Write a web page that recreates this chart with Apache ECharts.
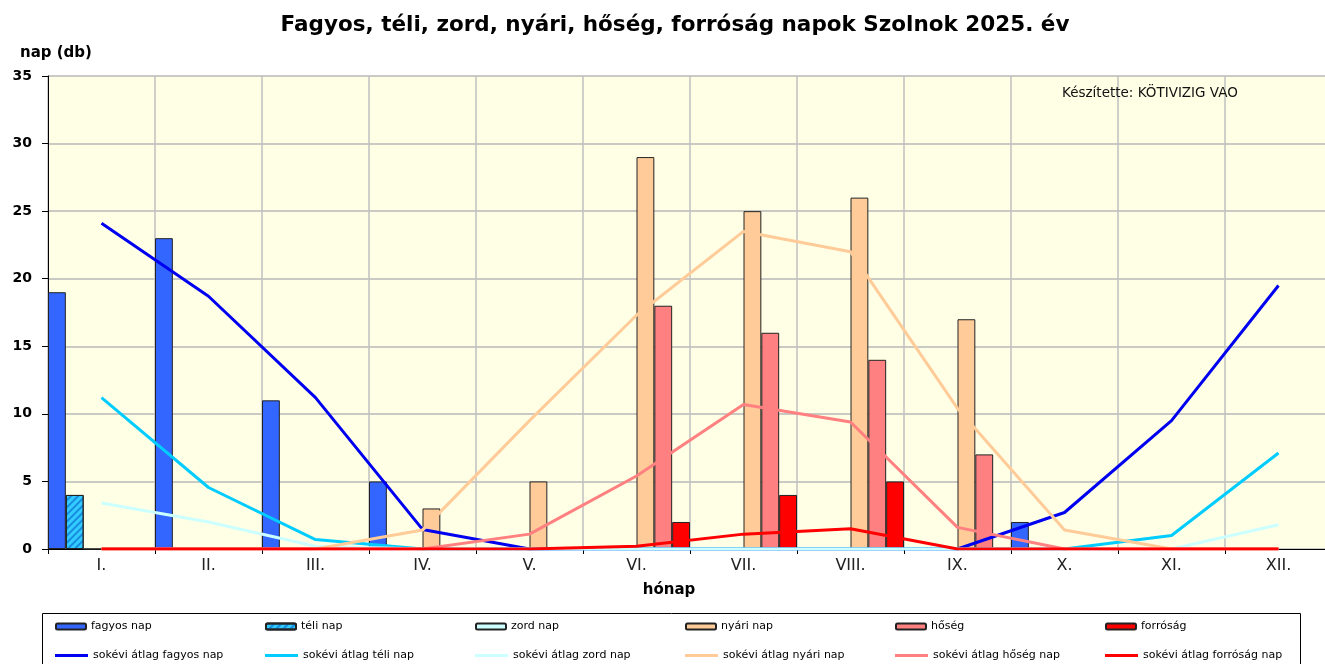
<!DOCTYPE html>
<html>
<head>
<meta charset="utf-8">
<script src="https://cdn.jsdelivr.net/npm/echarts@6/dist/echarts.min.js"></script>
<style>html,body{margin:0;padding:0;background:#fff;overflow:hidden;width:1325px;height:664px;}#chart{width:1332px;height:664px;}</style>
</head>
<body>
<div id="chart"></div>
<script>
var categories = ['I.','II.','III.','IV.','V.','VI.','VII.','VIII.','IX.','X.','XI.','XII.'];
var yTicks = [0, 5, 10, 15, 20, 25, 30, 35];

// 2025 values (bars)
var fagyos   = [19, 23, 11, 5, 0, 0, 0, 0, 0, 2, null, null];
var teli     = [4, 0, 0, 0, 0, 0, 0, 0, 0, 0, null, null];
var zord     = [0, 0, 0, 0, 0, 0, 0, 0, 0, 0, null, null];
var nyari    = [0, 0, 0, 3, 5, 29, 25, 26, 17, 0, null, null];
var hoseg    = [0, 0, 0, 0, 0, 18, 16, 14, 7, 0, null, null];
var forrosag = [0, 0, 0, 0, 0, 2, 4, 5, 0, 0, null, null];

// long-term averages (lines)
var avgFagyos   = [24.1, 18.7, 11.2, 1.45, 0, 0, 0, 0, 0, 2.7, 9.5, 19.5];
var avgTeli     = [11.2, 4.55, 0.7, 0, 0, 0, 0, 0, 0, 0, 1.0, 7.1];
var avgZord     = [3.4, 2.0, 0.2, 0, 0, 0, 0, 0, 0, 0, 0, 1.8];
var avgNyari    = [0, 0, 0, 1.4, 9.5, 17.3, 23.5, 22.0, 10.4, 1.4, 0, 0];
var avgHoseg    = [0, 0, 0, 0, 1.1, 5.4, 10.7, 9.4, 1.6, 0, 0, 0];
var avgForrosag = [0, 0, 0, 0, 0, 0.2, 1.1, 1.5, 0, 0, 0, 0];

var barNames  = ['fagyos nap','téli nap','zord nap','nyári nap','hőség','forróság'];
var lineNames = ['sokévi átlag fagyos nap','sokévi átlag téli nap','sokévi átlag zord nap','sokévi átlag nyári nap','sokévi átlag hőség nap','sokévi átlag forróság nap'];
var barColors  = ['#3366ff','#33ccff','#ccffff','#ffcc99','#ff8080','#ff0000'];
var lineColors = ['#0000f0','#00ccff','#ccffff','#ffcc99','#ff8080','#ff0000'];
var barData  = [fagyos, teli, zord, nyari, hoseg, forrosag];
var lineData = [avgFagyos, avgTeli, avgZord, avgNyari, avgHoseg, avgForrosag];

var FONT = 'DejaVu Sans';
var series = [];
barNames.forEach(function (n, i) {
  var style = { color: barColors[i], borderColor: '#222', borderWidth: 1 };
  if (i === 1) {
    style.decal = { symbol: 'rect', symbolSize: 1, dashArrayX: [1, 0], dashArrayY: [2, 3], rotation: -Math.PI / 4, color: 'rgba(0,90,200,0.55)' };
  }
  series.push({
    name: n, type: 'bar', data: barData[i], barGap: '0%', barCategoryGap: '0%',
    itemStyle: style, emphasis: { disabled: true }
  });
});
lineNames.forEach(function (n, i) {
  series.push({
    name: n, type: 'line', data: lineData[i], symbol: 'none', showSymbol: false,
    lineStyle: { color: lineColors[i], width: 3 }, itemStyle: { color: lineColors[i] },
    emphasis: { disabled: true }, z: 3
  });
});

var colX = [55, 265, 475, 685, 895, 1105];
var legends = [];
barNames.forEach(function (n, i) {
  legends.push({ data: [n], left: colX[i], top: 621, itemWidth: 30, itemHeight: 6, selectedMode: false, padding: 0,
    textStyle: { fontFamily: FONT, fontSize: 11, color: '#000' } });
});
lineNames.forEach(function (n, i) {
  legends.push({ data: [n], left: colX[i], top: 650, icon: 'rect', itemWidth: 33, itemHeight: 3, selectedMode: false, padding: 0,
    textStyle: { fontFamily: FONT, fontSize: 11, color: '#000' } });
});

var chart = echarts.init(document.getElementById('chart'), null, { renderer: 'canvas' });
chart.setOption({
  animation: false,
  backgroundColor: '#ffffff',
  title: [
    { text: 'Fagyos, téli, zord, nyári, hőség, forróság napok Szolnok 2025. év', left: 675, top: 14, textAlign: 'center', padding: 0,
      textStyle: { fontFamily: FONT, fontSize: 21.5, fontWeight: 'bold', color: '#000' } },
    { text: 'nap (db)', left: 20, top: 46, padding: 0, textStyle: { fontFamily: FONT, fontSize: 15, fontWeight: 'bold', color: '#000' } },
    { text: 'hónap', left: 669, top: 583, textAlign: 'center', padding: 0, textStyle: { fontFamily: FONT, fontSize: 15, fontWeight: 'bold', color: '#000' } },
    { text: 'Készítette: KÖTIVIZIG VAO', left: 1062, top: 86, padding: 0, textStyle: { fontFamily: FONT, fontSize: 13.5, fontWeight: 'normal', color: '#111' } }
  ],
  legend: legends,
  grid: { left: 48, top: 76, right: 0, bottom: 115, show: true, backgroundColor: '#ffffe5', borderWidth: 0, containLabel: false },
  xAxis: {
    type: 'category', data: categories, boundaryGap: true,
    axisLine: { show: true, lineStyle: { color: '#000', width: 1 } },
    axisTick: { show: true, length: 5, lineStyle: { color: '#000' } },
    axisLabel: { fontFamily: FONT, fontSize: 16, color: '#222', margin: 9 },
    splitLine: { show: true, lineStyle: { color: '#c0c0c0', width: 1.5 } }
  },
  yAxis: {
    type: 'value', min: 0, max: 35, interval: 5,
    axisLine: { show: true, lineStyle: { color: '#000', width: 1 } },
    axisTick: { show: true, length: 6, lineStyle: { color: '#000' } },
    axisLabel: { fontFamily: FONT, fontSize: 14, fontWeight: 'bold', color: '#000', margin: 16,
      formatter: function (v) { return yTicks.indexOf(v) >= 0 ? String(v) : ''; } },
    splitLine: { show: true, lineStyle: { color: '#b8b8b8', width: 1.5 } }
  },
  graphic: [
    { type: 'rect', left: 40, top: 611, shape: { width: 1258, height: 70 }, style: { fill: 'none', stroke: '#000', lineWidth: 1 }, z: -1 }
  ],
  series: series
});
</script>
</body>
</html>
